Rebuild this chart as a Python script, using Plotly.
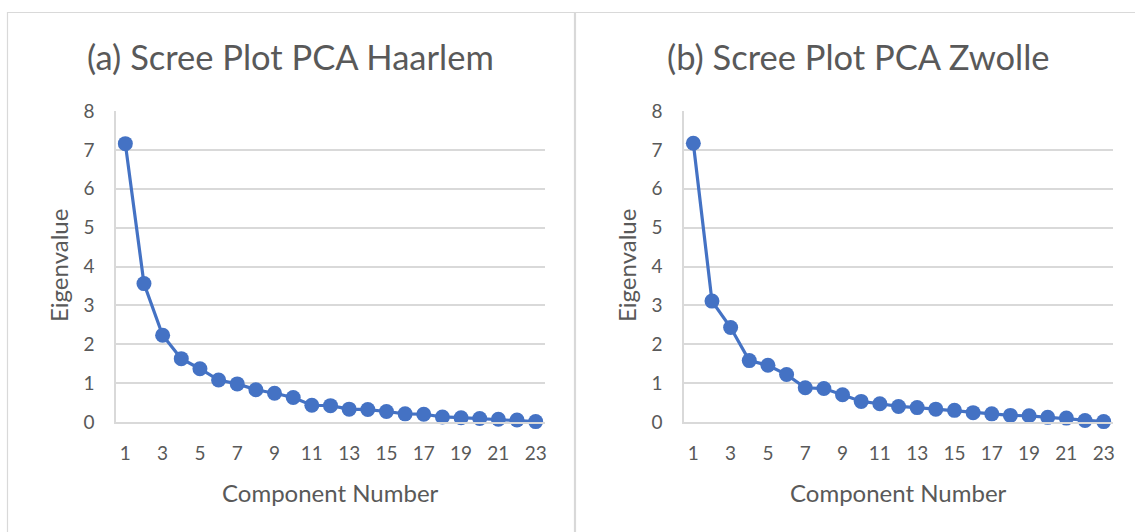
import plotly.graph_objects as go

components = list(range(1, 24))
haarlem = [7.16, 3.56, 2.23, 1.63, 1.37, 1.08, 0.98, 0.83, 0.74, 0.63, 0.43, 0.42,
           0.33, 0.32, 0.27, 0.21, 0.20, 0.13, 0.11, 0.09, 0.07, 0.05, 0.01]
zwolle = [7.17, 3.11, 2.43, 1.58, 1.46, 1.22, 0.88, 0.86, 0.70, 0.53, 0.47, 0.40,
          0.37, 0.33, 0.30, 0.24, 0.21, 0.17, 0.16, 0.12, 0.10, 0.04, 0.01]
titles = ["(a) Scree Plot PCA Haarlem", "(b) Scree Plot PCA Zwolle"]
x_title = "Component Number"
y_title = "Eigenvalue"
x_ticks = [1, 3, 5, 7, 9, 11, 13, 15, 17, 19, 21, 23]
y_ticks = [0, 1, 2, 3, 4, 5, 6, 7, 8]

W, H = 1135, 532
FONT = "Lato"
TXT = "#595959"
GRID = "#d9d9d9"
BLUE = "#4472C4"

fig = go.Figure()

panels = [
    dict(x0=116, x1=545, panel=(7.5, 574.5), data=haarlem, title=titles[0], ax="", tx=290),
    dict(x0=684, x1=1113, panel=(575.5, 1140), data=zwolle, title=titles[1], ax="2", tx=858),
]
y_top, y_bot = 111, 422

shapes = []
annotations = []
for p in panels:
    fig.add_trace(go.Scatter(
        x=components, y=p["data"], mode="lines+markers",
        line=dict(color=BLUE, width=3.2),
        marker=dict(color=BLUE, size=15),
        cliponaxis=False, showlegend=False, hoverinfo="x+y",
        xaxis="x" + p["ax"], yaxis="y" + p["ax"],
    ))
    xa = dict(
        domain=[p["x0"] / W, p["x1"] / W],
        range=[0.5, 23.5], tickvals=x_ticks, showgrid=False,
        showline=True, linecolor=GRID, linewidth=1.5, zeroline=False,
        ticks="outside", ticklen=13, tickcolor="rgba(0,0,0,0)",
        tickfont=dict(family=FONT, size=19, color=TXT),
        anchor="y" + p["ax"], fixedrange=True, automargin=False,
    )
    ya = dict(
        domain=[1 - y_bot / H, 1 - y_top / H],
        range=[0, 8], tickvals=y_ticks, showgrid=True, gridcolor=GRID, gridwidth=1.5,
        showline=True, linecolor=GRID, linewidth=1.5, zeroline=False,
        ticks="outside", ticklen=16, tickcolor="rgba(0,0,0,0)",
        tickfont=dict(family=FONT, size=19, color=TXT),
        anchor="x" + p["ax"], fixedrange=True, automargin=False,
    )
    fig.update_layout(**{"xaxis" + p["ax"]: xa, "yaxis" + p["ax"]: ya})
    px0, px1 = p["panel"]
    shapes.append(dict(type="rect", xref="paper", yref="paper",
                       x0=px0 / W, x1=px1 / W, y0=-0.05, y1=1 - 12.5 / H,
                       line=dict(color=GRID, width=1.2), fillcolor="rgba(0,0,0,0)", layer="below"))
    annotations.append(dict(text=p["title"], xref="paper", yref="paper",
                            x=p["tx"] / W, y=1 - 57 / H,
                            xanchor="center", yanchor="middle", showarrow=False,
                            font=dict(family=FONT, size=34.5, color=TXT)))
    annotations.append(dict(text=x_title, xref="paper", yref="paper",
                            x=(p["x0"] + p["x1"]) / 2 / W, y=1 - 492 / H,
                            xanchor="center", yanchor="middle", showarrow=False,
                            font=dict(family=FONT, size=24, color=TXT)))
    annotations.append(dict(text=y_title, xref="paper", yref="paper",
                            x=(p["x0"] - 58) / W, y=1 - 266 / H, textangle=-90,
                            xanchor="center", yanchor="middle", showarrow=False,
                            font=dict(family=FONT, size=24, color=TXT)))

fig.update_layout(
    width=W, height=H,
    margin=dict(l=0, r=0, t=0, b=0, autoexpand=False),
    paper_bgcolor="white", plot_bgcolor="white",
    shapes=shapes, annotations=annotations,
)

fig.write_html("out.html", config={"displayModeBar": False},
               post_script="document.body.style.margin='0';document.body.style.overflow='hidden';")
